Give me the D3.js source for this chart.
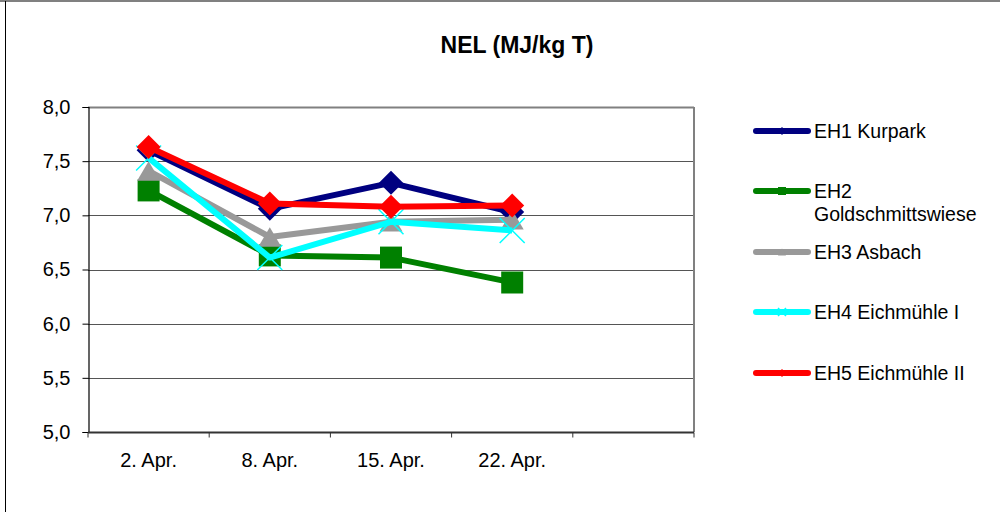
<!DOCTYPE html>
<html>
<head>
<meta charset="utf-8">
<title>NEL (MJ/kg T)</title>
<style>
  body { margin: 0; background: #fff; }
  text { font-family: "Liberation Sans", Arial, sans-serif; }
</style>
</head>
<body>
<svg width="1000" height="512"></svg>
<script src="https://cdn.jsdelivr.net/npm/d3@7"></script>
<script>
// categories (5th slot stays empty like in the original sheet)
var categories = ["2. Apr.", "8. Apr.", "15. Apr.", "22. Apr.", ""];
var seriesNames = ["EH1 Kurpark", "EH2 Goldschmittswiese", "EH3 Asbach", "EH4 Eichmühle I", "EH5 Eichmühle II"];
var eh1 = [7.60, 7.06, 7.30, 7.03];
var eh2 = [7.23, 6.63, 6.61, 6.38];
var eh3 = [7.41, 6.80, 6.94, 6.96];
var eh4 = [7.53, 6.61, 6.94, 6.86];
var eh5 = [7.63, 7.11, 7.08, 7.09];
var yTicks = [5.0, 5.5, 6.0, 6.5, 7.0, 7.5, 8.0];

var colors = ["#000080", "#008000", "#999999", "#00ffff", "#ff0000"];
var shapes = ["diamond", "square", "triangle", "x", "diamond"];
var values = [eh1, eh2, eh3, eh4, eh5];

var svg = d3.select("svg");

// outer frame
svg.append("line").attr("x1", 0).attr("x2", 1000).attr("y1", 1).attr("y2", 1)
    .attr("stroke", "#808080").attr("stroke-width", 2);
svg.append("line").attr("x1", 5.5).attr("x2", 5.5).attr("y1", 1).attr("y2", 512)
    .attr("stroke", "#000").attr("stroke-width", 1);

var plotL = 88, plotR = 694, plotT = 107, plotB = 432;

var x = d3.scaleBand().domain(categories).range([plotL, plotR]).padding(0);
var y = d3.scaleLinear().domain([5, 8]).range([plotB, plotT]);
function cx(i) { return x(categories[i]) + x.bandwidth() / 2; }

// title
svg.append("text")
    .attr("x", 517).attr("y", 53)
    .attr("text-anchor", "middle")
    .attr("font-size", 23).attr("font-weight", "bold")
    .text("NEL (MJ/kg T)");

// gridlines
svg.append("g").selectAll("line")
  .data(yTicks.slice(1))
  .enter().append("line")
    .attr("x1", plotL).attr("x2", plotR)
    .attr("y1", function(d) { return Math.round(y(d)) + 0.5; })
    .attr("y2", function(d) { return Math.round(y(d)) + 0.5; })
    .attr("stroke", function(d) { return d == 8 ? "#808080" : "#555"; })
    .attr("stroke-width", function(d) { return d == 8 ? 2 : 1; });

// right frame of plot area
svg.append("line").attr("x1", plotR).attr("x2", plotR).attr("y1", plotT).attr("y2", plotB)
    .attr("stroke", "#808080").attr("stroke-width", 2);

// y axis
var yAxis = svg.append("g")
    .attr("transform", "translate(" + (plotL + 0.5) + ",0)")
    .call(d3.axisLeft(y).tickValues(yTicks).tickSize(6).tickPadding(12)
      .tickFormat(function(d) { return d3.format(".1f")(d).replace(".", ","); }));
yAxis.select(".domain").attr("stroke", "#000").attr("stroke-width", 1.2);
yAxis.selectAll("text").attr("font-size", 20).attr("fill", "#000")
    .attr("font-family", "Liberation Sans, Arial, sans-serif");

// x axis
var xAxis = svg.append("g")
    .attr("transform", "translate(0," + (plotB + 0.5) + ")")
    .call(d3.axisBottom(x).tickSize(0).tickPadding(20));
xAxis.select(".domain").attr("stroke", "#333").attr("stroke-width", 2).attr("d", "M" + plotL + ",0H" + plotR);
xAxis.selectAll("text").attr("font-size", 20).attr("fill", "#000")
    .attr("font-family", "Liberation Sans, Arial, sans-serif");
xAxis.selectAll(".bound")
  .data(d3.range(categories.length + 1))
  .enter().append("line")
    .attr("class", "bound")
    .attr("x1", function(i) { return plotL + i * x.bandwidth(); })
    .attr("x2", function(i) { return plotL + i * x.bandwidth(); })
    .attr("y1", 0).attr("y2", 5)
    .attr("stroke", "#333");

// marker path builder
function marker(shape, s) {
  var h = s / 2;
  if (shape == "diamond") return "M0," + (-h) + "L" + h + ",0L0," + h + "L" + (-h) + ",0Z";
  if (shape == "square") return "M" + (-h) + "," + (-h) + "h" + s + "v" + s + "h" + (-s) + "Z";
  if (shape == "triangle") return "M0," + (-h * 0.85) + "L" + h + "," + (h * 0.85) + "L" + (-h) + "," + (h * 0.85) + "Z";
  return "M" + (-h) + "," + (-h) + "L" + h + "," + h + "M" + h + "," + (-h) + "L" + (-h) + "," + h;
}
var markerSize = [24, 22, 23, 25, 24];

var line = d3.line()
    .x(function(d, i) { return cx(i); })
    .y(function(d) { return y(d); });

values.forEach(function(vals, k) {
  var g = svg.append("g");
  g.append("path")
    .datum(vals)
    .attr("d", line)
    .attr("fill", "none")
    .attr("stroke", colors[k])
    .attr("stroke-width", 6)
    .attr("stroke-linejoin", "round");
  g.selectAll("path.m")
    .data(vals)
    .enter().append("path")
      .attr("class", "m")
      .attr("transform", function(d, i) { return "translate(" + cx(i) + "," + y(d) + ")"; })
      .attr("d", marker(shapes[k], markerSize[k]))
      .attr("fill", shapes[k] == "x" ? "none" : colors[k])
      .attr("stroke", colors[k])
      .attr("stroke-width", shapes[k] == "x" ? 1.5 : 0);
});

// legend
var legendY = [131, 191, 252, 312, 373];
var lg = svg.append("g");
seriesNames.forEach(function(name, k) {
  var row = lg.append("g").attr("transform", "translate(0," + legendY[k] + ")");
  row.append("line").attr("x1", 756).attr("x2", 808).attr("y1", 0).attr("y2", 0)
    .attr("stroke", colors[k]).attr("stroke-width", 6).attr("stroke-linecap", "round");
  row.append("path").attr("transform", "translate(782,0)")
    .attr("d", marker(shapes[k], 8))
    .attr("fill", shapes[k] == "x" ? "none" : colors[k])
    .attr("stroke", colors[k]).attr("stroke-width", shapes[k] == "x" ? 1.5 : 0);
  var t = row.append("text").attr("x", 814).attr("y", 7).attr("font-size", 19.5).attr("fill", "#000");
  if (k == 1) {
    t.append("tspan").attr("x", 814).text("EH2");
    t.append("tspan").attr("x", 814).attr("dy", 23).text("Goldschmittswiese");
  } else {
    t.text(name);
  }
});
</script>
</body>
</html>
